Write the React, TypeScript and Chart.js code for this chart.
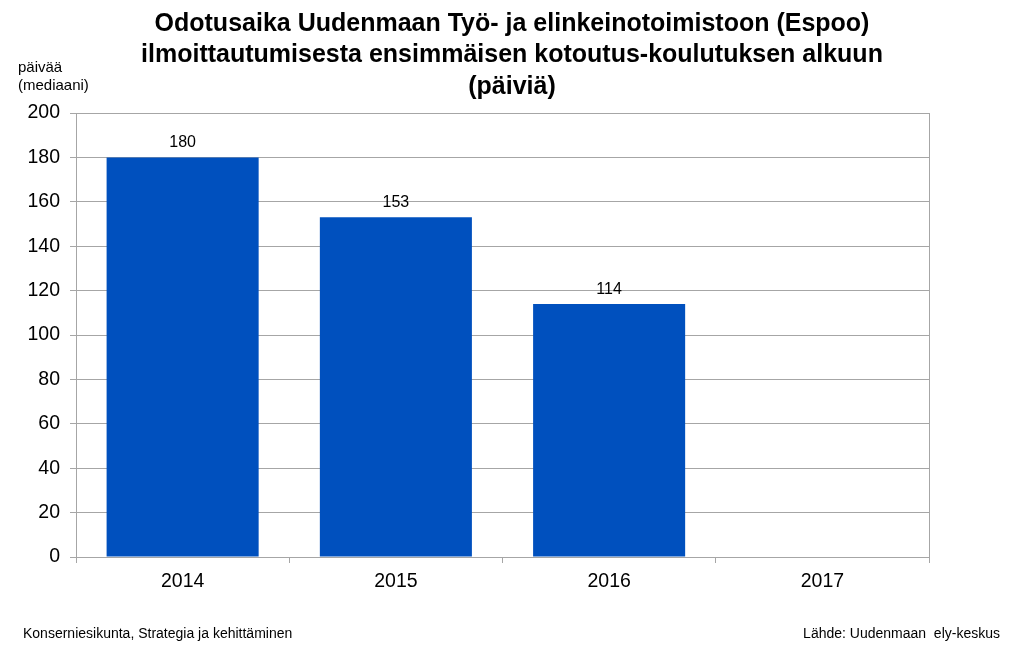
import React, { useEffect, useRef } from "react";
import { Chart, registerables } from "chart.js";

Chart.register(...registerables);

const categories = ["2014", "2015", "2016", "2017"];
const values: (number | null)[] = [180, 153, 114, null];
const titleLines = [
  "Odotusaika Uudenmaan Työ- ja elinkeinotoimistoon (Espoo)",
  "ilmoittautumisesta ensimmäisen kotoutus-koulutuksen alkuun",
  "(päiviä)",
];
const yTitleLines = ["päivää", "(mediaani)"];
const footerLeft = "Konserniesikunta, Strategia ja kehittäminen";
const footerRight = "Lähde: Uudenmaan  ely-keskus";

const FONT = "'Liberation Sans', Arial, sans-serif";

const overlay = {
  id: "overlay",
  afterDatasetsDraw(chart: any) {
    const ctx = chart.ctx;
    const area = chart.chartArea;
    ctx.save();
    ctx.strokeStyle = "#a6a6a6";
    ctx.lineWidth = 1;
    ctx.beginPath();
    ctx.moveTo(Math.round(area.right) + 0.5, area.top);
    ctx.lineTo(Math.round(area.right) + 0.5, area.bottom);
    ctx.stroke();

    // data labels
    const meta = chart.getDatasetMeta(0);
    ctx.fillStyle = "#000";
    ctx.font = `16px ${FONT}`;
    ctx.textAlign = "center";
    ctx.textBaseline = "alphabetic";
    meta.data.forEach((bar: any, i: number) => {
      const v = values[i];
      if (v == null) return;
      ctx.fillText(String(v), bar.x, bar.y - 10);
    });

    // title
    ctx.font = `bold 25px ${FONT}`;
    ctx.textBaseline = "middle";
    titleLines.forEach((t, i) => ctx.fillText(t, 512, 24 + i * 31.5));

    // y title
    ctx.font = `15px ${FONT}`;
    ctx.textAlign = "left";
    yTitleLines.forEach((t, i) => ctx.fillText(t, 18, 68 + i * 18));

    // footer
    ctx.font = `14px ${FONT}`;
    ctx.fillText(footerLeft, 23, 634);
    ctx.textAlign = "right";
    ctx.fillText(footerRight, 1000, 634);
    ctx.restore();
  },
};

export default function App() {
  const ref = useRef<HTMLCanvasElement>(null);
  useEffect(() => {
    document.body.style.margin = "0";
    const chart = new Chart(ref.current!, {
      type: "bar",
      data: {
        labels: categories,
        datasets: [
          {
            data: values,
            backgroundColor: "#0050be",
            categoryPercentage: 0.713,
            barPercentage: 1,
          },
        ],
      },
      options: {
        animation: false,
        responsive: false,
        devicePixelRatio: 1,
        layout: { padding: { top: 113, right: 95, left: 0, bottom: 0 } },
        plugins: { legend: { display: false }, tooltip: { enabled: false }, title: { display: false } },
        scales: {
          x: {
            offset: true,
            afterFit: (s: any) => { s.height = 111; },
            grid: { offset: true, drawOnChartArea: false, drawTicks: true, tickLength: 6, color: "#a6a6a6" },
            border: { color: "#a6a6a6" },
            ticks: { color: "#000", font: { size: 19.5, family: FONT }, padding: 7 },
          },
          y: {
            min: 0,
            max: 200,
            afterFit: (s: any) => { s.width = 76; },
            grid: { color: "#a6a6a6", tickLength: 6 },
            border: { color: "#a6a6a6" },
            ticks: { stepSize: 20, color: "#000", font: { size: 19.5, family: FONT }, padding: 10 },
          },
        },
      },
      plugins: [overlay],
    });
    return () => chart.destroy();
  }, []);
  return <canvas ref={ref} width={1024} height={668} style={{ display: "block" }} />;
}
